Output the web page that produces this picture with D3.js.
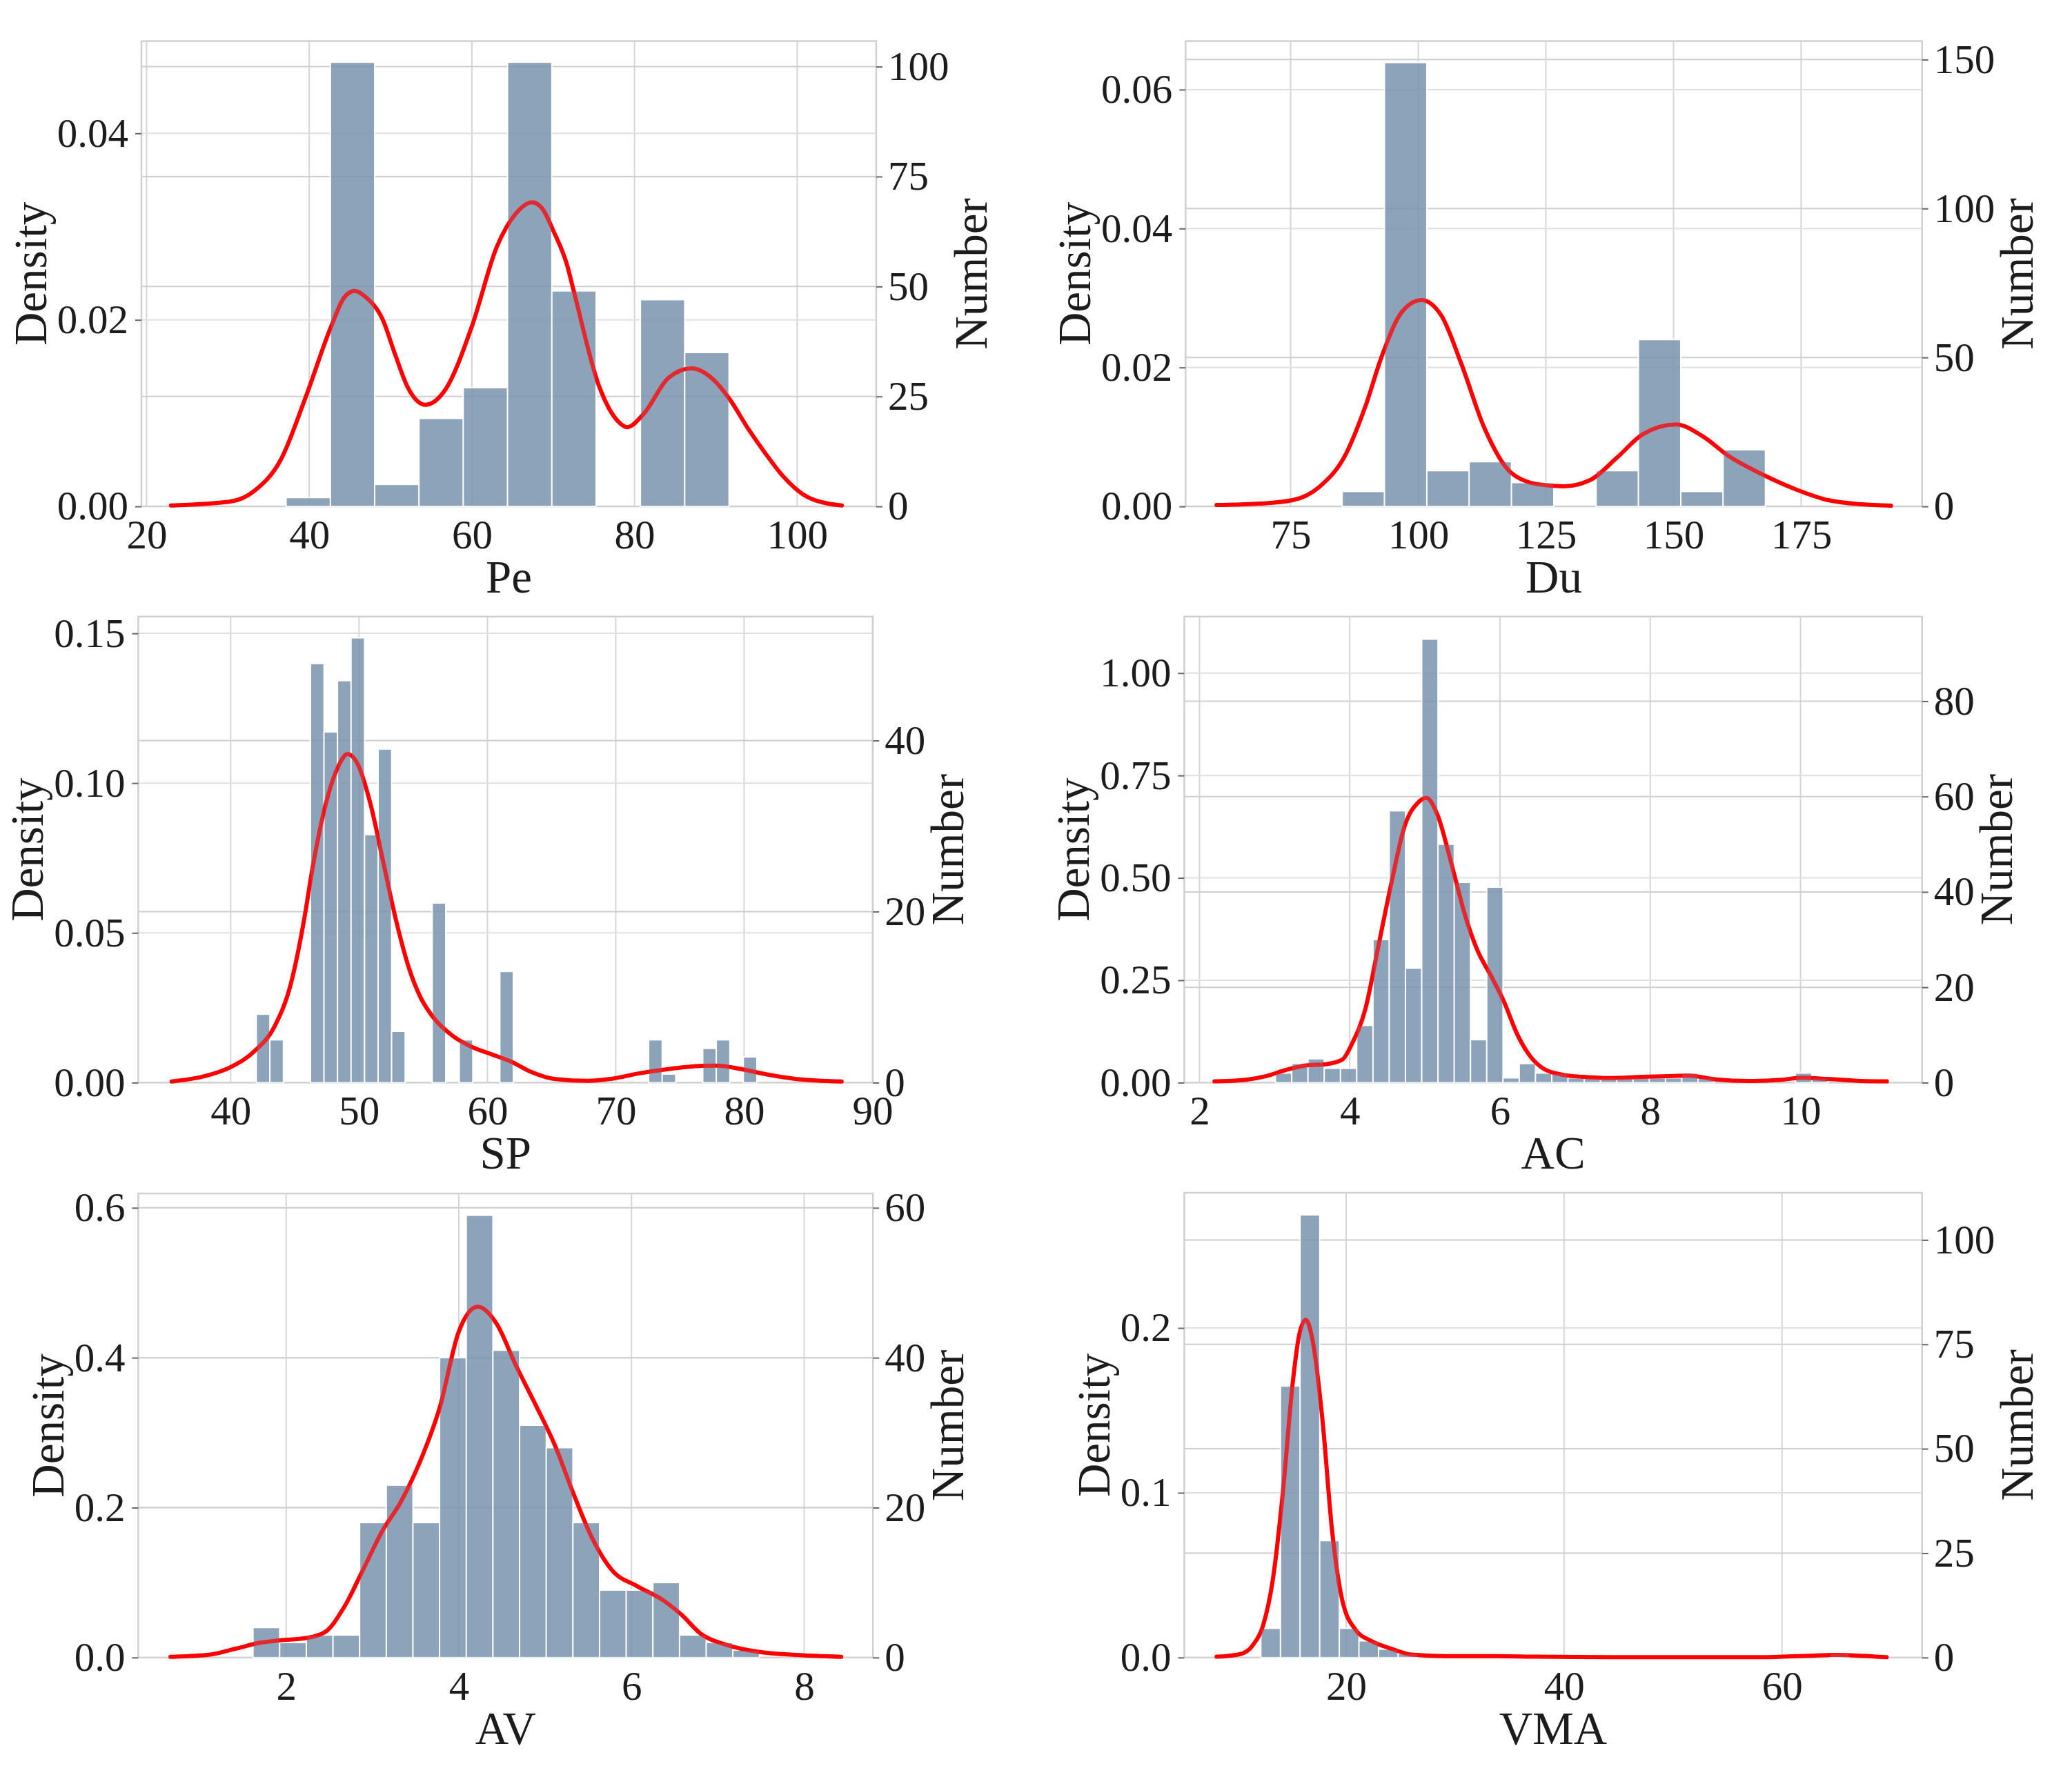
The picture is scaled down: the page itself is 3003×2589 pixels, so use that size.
<!DOCTYPE html>
<html><head><meta charset="utf-8">
<script src="https://cdn.jsdelivr.net/npm/d3@7/dist/d3.min.js"></script>
<style>
html,body{margin:0;padding:0;background:#fff;}
svg text{font-family:"Liberation Serif","Times New Roman",serif;fill:#1c1c1c;}
</style></head><body>
<svg id="chart" width="3003" height="2589"></svg>
<script>
// ---------------- DATA ----------------
// Pe
const peXTicks = [20, 40, 60, 80, 100];
const peDensityTicks = [0, 0.02, 0.04];
const peCountTicks = [0, 25, 50, 75, 100];
const peBinStart = 37.16, peBinWidth = 5.446;
const peCounts = [2, 101, 5, 20, 27, 101, 49, 0, 47, 35];
const peKde = [[23.0,0.0001],[30.2,0.0005],[33.3,0.0017],[36.5,0.0050],[39.6,0.0118],[42.7,0.0193],[44.3,0.0224],[45.6,0.0231],[47.0,0.0224],[49.0,0.0201],[50.6,0.0162],[52.1,0.0128],[54.3,0.0109],[56.8,0.0126],[60.0,0.0193],[63.1,0.0279],[65.4,0.0314],[67.4,0.0326],[68.6,0.0320],[70.1,0.0294],[71.7,0.0259],[72.5,0.0232],[75.6,0.0130],[78.0,0.0091],[79.1,0.0085],[81.1,0.0099],[84.2,0.0138],[87.0,0.0148],[89.7,0.0136],[91.7,0.0115],[94.0,0.0083],[96.0,0.0058],[98.3,0.0032],[100.7,0.0013],[103.8,0.0003],[105.5,0.0001]];

// Du
const duXTicks = [75, 100, 125, 150, 175];
const duDensityTicks = [0, 0.02, 0.04, 0.06];
const duCountTicks = [0, 50, 100, 150];
const duBinStart = 85.1, duBinWidth = 8.29;
const duCounts = [5, 149, 12, 15, 8, 0, 12, 56, 5, 19];
const duKde = [[60.5,0.0002],[68.9,0.0004],[75.4,0.0009],[80.6,0.0028],[85.8,0.0075],[89.6,0.0143],[92.9,0.0217],[96.8,0.0280],[100.6,0.0297],[104.5,0.0275],[108.4,0.0206],[113.0,0.0112],[118.1,0.0049],[123.3,0.0032],[128.5,0.0029],[133.7,0.0038],[138.9,0.0070],[144.0,0.0104],[150.5,0.0118],[155.7,0.0101],[160.9,0.0072],[167.4,0.0046],[173.8,0.0025],[180.3,0.0009],[186.8,0.0003],[192.6,0.0001]];

// SP
const spXTicks = [40, 50, 60, 70, 80, 90];
const spDensityTicks = [0, 0.05, 0.10, 0.15];
const spCountTicks = [0, 20, 40];
const spBinStart = 42.0, spBinWidth = 1.054;
const spCounts = [8, 5, 0, 0, 49, 41, 47, 52, 29, 39, 6, 0, 0, 21, 0, 5, 0, 0, 13, 0, 0, 0, 0, 0, 0, 0, 0, 0, 0, 5, 1, 0, 0, 4, 5, 0, 3];
const spKde = [[35.4,0.0004],[38.0,0.0022],[40.0,0.0052],[41.9,0.0107],[43.4,0.0186],[44.7,0.0332],[45.7,0.0539],[46.4,0.0722],[47.4,0.0929],[48.4,0.1057],[49.1,0.1097],[49.9,0.1063],[50.9,0.0929],[51.9,0.0734],[52.9,0.0539],[53.9,0.0381],[54.8,0.0284],[55.8,0.0217],[57.3,0.0156],[58.8,0.0119],[60.3,0.0095],[61.8,0.0071],[63.3,0.0038],[65.3,0.0012],[67.8,0.0006],[69.7,0.0013],[71.7,0.0030],[74.2,0.0046],[76.7,0.0056],[77.9,0.0057],[79.7,0.0046],[81.7,0.0028],[84.1,0.0012],[87.6,0.0004]];

// AC
const acXTicks = [2, 4, 6, 8, 10];
const acDensityTicks = [0, 0.25, 0.50, 0.75, 1.00];
const acCountTicks = [0, 20, 40, 60, 80];
const acBinStart = 3.012, acBinWidth = 0.2163;
const acCounts = [2, 4, 5, 3, 3, 12, 30, 57, 24, 93, 50, 42, 9, 41, 1, 4, 2, 2, 1, 1, 1, 1, 1, 1, 1, 2, 1, 0, 0, 0, 0, 0, 2, 1];
const acKde = [[2.20,0.003],[2.62,0.007],[2.89,0.016],[3.15,0.031],[3.42,0.042],[3.68,0.045],[3.90,0.056],[4.03,0.095],[4.21,0.181],[4.38,0.332],[4.56,0.492],[4.73,0.626],[4.91,0.684],[5.02,0.695],[5.17,0.653],[5.35,0.537],[5.53,0.412],[5.70,0.323],[5.88,0.261],[6.05,0.199],[6.23,0.118],[6.40,0.065],[6.58,0.034],[6.84,0.019],[7.11,0.014],[7.46,0.011],[7.90,0.014],[8.25,0.016],[8.51,0.017],[8.87,0.008],[9.31,0.004],[9.75,0.007],[10.01,0.012],[10.36,0.009],[10.80,0.004],[11.15,0.003]];

// AV
const avXTicks = [2, 4, 6, 8];
const avDensityTicks = [0, 0.2, 0.4, 0.6];
const avCountTicks = [0, 20, 40, 60];
const avBinStart = 1.616, avBinWidth = 0.3088;
const avCounts = [4, 2, 3, 3, 18, 23, 18, 40, 59, 41, 31, 28, 18, 9, 9, 10, 3, 2, 1];
const avKde = [[0.66,0.001],[1.12,0.004],[1.42,0.012],[1.71,0.020],[1.93,0.023],[2.23,0.026],[2.45,0.034],[2.67,0.067],[2.89,0.117],[3.11,0.168],[3.33,0.208],[3.56,0.264],[3.78,0.334],[4.00,0.435],[4.22,0.468],[4.44,0.445],[4.66,0.390],[4.89,0.337],[5.11,0.284],[5.33,0.218],[5.55,0.158],[5.77,0.117],[6.07,0.095],[6.36,0.077],[6.58,0.057],[6.80,0.032],[7.10,0.017],[7.47,0.0076],[7.91,0.0035],[8.43,0.001]];

// VMA
const vmaXTicks = [20, 40, 60];
const vmaDensityTicks = [0, 0.1, 0.2];
const vmaCountTicks = [0, 25, 50, 75, 100];
const vmaBinStart = 12.18, vmaBinWidth = 1.8;
const vmaCounts = [7, 65, 106, 28, 7, 4, 2, 1, 0, 0, 0, 0, 0, 0, 0, 0, 0, 0, 0, 0, 0, 0, 0, 0, 0, 0, 0, 0, 0, 1];
const vmaKde = [[8.12,0.0005],[10.24,0.002],[11.45,0.0076],[12.36,0.019],[13.27,0.047],[14.18,0.099],[15.09,0.166],[15.70,0.196],[16.30,0.205],[16.91,0.193],[17.82,0.145],[18.73,0.076],[19.64,0.035],[20.85,0.017],[22.36,0.0099],[24.18,0.0053],[26.0,0.0018],[29.03,0.0009],[33.88,0.0009],[37.5,0.0005],[46.0,0.0002],[58.1,0.0002],[62.4,0.0011],[64.8,0.0016],[67.2,0.0011],[69.6,0.0002]];

// ---------------- LAYOUT ----------------
const panels = [
  {title:'Pe',  frame:[205.0, 59.6, 1269.9, 734.1],  xDomain:[19.37,109.72], dDomain:[0,0.04989], cDomain:[0,105.8],
   xTicks:peXTicks, dTicks:peDensityTicks, dFmt:'.2f', cTicks:peCountTicks, binStart:peBinStart, binWidth:peBinWidth, counts:peCounts, kde:peKde},
  {title:'Du',  frame:[1718.3, 59.6, 2785.7, 734.1], xDomain:[54.43,198.68], dDomain:[0,0.06698], cDomain:[0,156.2],
   xTicks:duXTicks, dTicks:duDensityTicks, dFmt:'.2f', cTicks:duCountTicks, binStart:duBinStart, binWidth:duBinWidth, counts:duCounts, kde:duKde},
  {title:'SP',  frame:[200.4, 893.8, 1265.2, 1569.4], xDomain:[32.8,90.04], dDomain:[0,0.1556], cDomain:[0,54.49],
   xTicks:spXTicks, dTicks:spDensityTicks, dFmt:'.2f', cTicks:spCountTicks, binStart:spBinStart, binWidth:spBinWidth, counts:spCounts, kde:spKde},
  {title:'AC',  frame:[1716.4, 893.8, 2785.7, 1569.4], xDomain:[1.798,11.618], dDomain:[0,1.138], cDomain:[0,97.74],
   xTicks:acXTicks, dTicks:acDensityTicks, dFmt:'.2f', cTicks:acCountTicks, binStart:acBinStart, binWidth:acBinWidth, counts:acCounts, kde:acKde},
  {title:'AV',  frame:[200.4, 1730.1, 1265.2, 2402.8], xDomain:[0.287,8.797], dDomain:[0,0.6191], cDomain:[0,61.91],
   xTicks:avXTicks, dTicks:avDensityTicks, dFmt:'.1f', cTicks:avCountTicks, binStart:avBinStart, binWidth:avBinWidth, counts:avCounts, kde:avKde},
  {title:'VMA', frame:[1716.4, 1729.0, 2785.7, 2402.8], xDomain:[5.15,72.85], dDomain:[0,0.2821], cDomain:[0,111.3],
   xTicks:vmaXTicks, dTicks:vmaDensityTicks, dFmt:'.1f', cTicks:vmaCountTicks, binStart:vmaBinStart, binWidth:vmaBinWidth, counts:vmaCounts, kde:vmaKde}
];

const svg = d3.select('#chart');
const TICK_FS = 59, TITLE_FS = 67;
const BAR_FILL = '#6f8ca9', BAR_TOP = '#8ca3ba';
const FONT = '"Liberation Serif","Times New Roman",serif';

function drawPanel(p) {
  const [x0, y0, x1, y1] = p.frame;
  const g = svg.append('g');
  const x = d3.scaleLinear().domain(p.xDomain).range([x0, x1]);
  const yD = d3.scaleLinear().domain(p.dDomain).range([y1, y0]);
  const yC = d3.scaleLinear().domain(p.cDomain).range([y1, y0]);

  // grid
  const grid = g.append('g');
  grid.selectAll('line.vx').data(p.xTicks).join('line')
    .attr('x1', d => x(d)).attr('x2', d => x(d)).attr('y1', y0).attr('y2', y1)
    .attr('stroke', '#d6d6d6').attr('stroke-width', 2);
  grid.selectAll('line.hd').data(p.dTicks.filter(d => d > 0)).join('line')
    .attr('x1', x0).attr('x2', x1).attr('y1', d => yD(d)).attr('y2', d => yD(d))
    .attr('stroke', '#e0e0e0').attr('stroke-width', 2);
  grid.selectAll('line.hc').data(p.cTicks.filter(d => d > 0)).join('line')
    .attr('x1', x0).attr('x2', x1).attr('y1', d => yC(d)).attr('y2', d => yC(d))
    .attr('stroke', '#cecece').attr('stroke-width', 2);
  g.append('rect').attr('x', x0).attr('y', y0).attr('width', x1 - x0).attr('height', y1 - y0)
    .attr('fill', 'none').attr('stroke', '#d0d0d0').attr('stroke-width', 2.5);

  const bins = p.counts.map((c, i) => ({a: p.binStart + i * p.binWidth, b: p.binStart + (i + 1) * p.binWidth, c}))
    .filter(d => d.c > 0);

  g.append('g').selectAll('rect').data(bins).join('rect')
    .attr('x', d => x(d.a)).attr('width', d => x(d.b) - x(d.a))
    .attr('y', d => yC(d.c)).attr('height', d => yC(0) - yC(d.c))
    .attr('fill', BAR_FILL).attr('fill-opacity', 0.8)
    .attr('stroke', '#fff').attr('stroke-width', 2);

  const line = d3.line().x(d => x(d[0])).y(d => yD(d[1])).curve(d3.curveMonotoneX);
  g.append('path').datum(p.kde).attr('d', line)
    .attr('fill', 'none').attr('stroke', '#ff0000').attr('stroke-width', 6)
    .attr('stroke-linejoin', 'round').attr('stroke-linecap', 'round');

  // translucent bar overlay (darkens the curve where it crosses bars)
  g.append('g').selectAll('rect').data(bins).join('rect')
    .attr('x', d => x(d.a) + 1).attr('width', d => Math.max(0, x(d.b) - x(d.a) - 2))
    .attr('y', d => yC(d.c) + 1).attr('height', d => Math.max(0, yC(0) - yC(d.c) - 1))
    .attr('fill', BAR_TOP).attr('fill-opacity', 0.25);

  // axes
  const axL = g.append('g').attr('transform', `translate(${x0},0)`)
    .call(d3.axisLeft(yD).tickValues(p.dTicks).tickFormat(d3.format(p.dFmt)).tickSize(9).tickPadding(10));
  const axR = g.append('g').attr('transform', `translate(${x1},0)`)
    .call(d3.axisRight(yC).tickValues(p.cTicks).tickFormat(d3.format('d')).tickSize(9).tickPadding(8));
  const axB = g.append('g').attr('transform', `translate(0,${y1})`)
    .call(d3.axisBottom(x).tickValues(p.xTicks).tickFormat(d3.format('d')).tickSize(0).tickPadding(19));
  [axL, axR, axB].forEach(a => {
    a.attr('font-family', FONT);
    a.select('.domain').remove();
    a.selectAll('.tick line').attr('stroke', '#666').attr('stroke-width', 2);
    a.selectAll('.tick text').attr('font-size', TICK_FS).attr('fill', '#1c1c1c').style('font-family', FONT);
  });

  let maxL = 0, maxR = 0;
  axL.selectAll('.tick text').each(function () { maxL = Math.max(maxL, this.getComputedTextLength()); });
  axR.selectAll('.tick text').each(function () { maxR = Math.max(maxR, this.getComputedTextLength()); });

  const cy = (y0 + y1) / 2;
  g.append('text').attr('transform', `translate(${x0 - 19 - maxL - 16},${cy}) rotate(-90)`)
    .attr('text-anchor', 'middle').attr('font-size', TITLE_FS).style('font-family', FONT).text('Density');
  g.append('text').attr('transform', `translate(${x1 + 17 + maxR + 10 + 0.662 * TITLE_FS},${cy}) rotate(-90)`)
    .attr('text-anchor', 'middle').attr('font-size', TITLE_FS).style('font-family', FONT).text('Number');
  g.append('text').attr('x', (x0 + x1) / 2).attr('y', y1 + 125)
    .attr('text-anchor', 'middle').attr('font-size', TITLE_FS).style('font-family', FONT).text(p.title);
}

panels.forEach(drawPanel);
</script>
</body></html>
